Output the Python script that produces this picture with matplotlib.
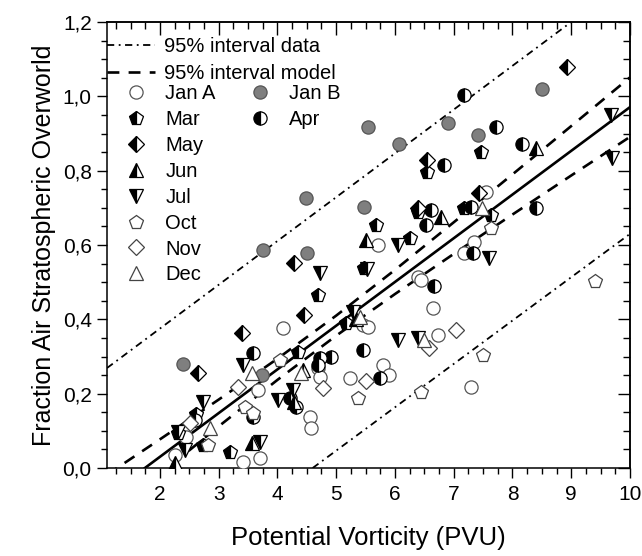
import matplotlib
matplotlib.use("Agg")
import matplotlib.pyplot as plt
from matplotlib.lines import Line2D
from matplotlib.ticker import MultipleLocator, FixedLocator, NullFormatter

plt.rcParams['font.family'] = ['Liberation Sans', 'DejaVu Sans']

# ---------------- data ----------------
jan_a_x = [2.25, 2.45, 3.41, 3.70, 3.67, 4.09, 4.69, 4.72, 4.55, 4.58, 5.23, 5.45, 5.54,
           5.79, 5.90, 6.39, 6.44, 6.64, 6.73, 7.29, 7.35, 7.18, 7.55, 5.71]
jan_a_y = [0.035, 0.084, 0.017, 0.026, 0.21, 0.376, 0.268, 0.246, 0.138, 0.107, 0.241, 0.385, 0.38,
           0.277, 0.25, 0.515, 0.506, 0.43, 0.358, 0.219, 0.609, 0.578, 0.743, 0.60]
jan_b_x = [2.40, 3.75, 3.74, 4.50, 4.49, 5.48, 5.54, 6.07, 6.91, 7.42, 8.50]
jan_b_y = [0.28, 0.587, 0.25, 0.578, 0.726, 0.703, 0.918, 0.872, 0.927, 0.896, 1.021]
mar_x = [2.31, 2.74, 3.19, 4.35, 4.69, 5.17, 5.48, 5.68, 6.25, 6.39, 6.55, 7.18, 7.46, 7.63, 2.62]
mar_y = [0.093, 0.062, 0.044, 0.313, 0.465, 0.389, 0.537, 0.654, 0.618, 0.69, 0.797, 0.699, 0.851, 0.681, 0.145]
apr_x = [2.60, 3.58, 3.58, 4.21, 4.32, 4.72, 4.69, 4.91, 5.45, 5.74, 6.53, 6.61, 6.84, 6.67,
         7.29, 7.32, 7.18, 7.72, 8.17, 8.40]
apr_y = [0.128, 0.309, 0.138, 0.188, 0.165, 0.295, 0.277, 0.30, 0.317, 0.241, 0.654, 0.694, 0.815, 0.49,
         0.703, 0.578, 1.003, 0.918, 0.872, 0.699]
may_x = [2.65, 3.39, 4.29, 4.46, 6.55, 7.43, 8.93, 6.39]
may_y = [0.255, 0.362, 0.551, 0.413, 0.829, 0.739, 1.08, 0.70]
jun_x = [2.25, 3.56, 4.29, 4.43, 5.51, 6.78, 8.40, 5.33]
jun_y = [0.014, 0.066, 0.178, 0.264, 0.613, 0.676, 0.86, 0.40]
jul_x = [2.31, 2.42, 2.74, 3.41, 3.70, 4.01, 4.26, 4.72, 5.28, 5.52, 6.05, 6.05, 6.39, 7.60, 9.67, 9.70]
jul_y = [0.098, 0.048, 0.178, 0.277, 0.07, 0.183, 0.21, 0.524, 0.42, 0.535, 0.60, 0.344, 0.349, 0.564, 0.95, 0.833]
oct_x = [2.82, 3.44, 3.58, 4.04, 5.37, 6.44, 7.49, 9.40, 7.64]
oct_y = [0.062, 0.165, 0.147, 0.29, 0.188, 0.205, 0.304, 0.504, 0.645]
nov_x = [2.51, 3.33, 4.77, 5.50, 6.58, 7.04]
nov_y = [0.12, 0.219, 0.214, 0.235, 0.322, 0.371]
dec_x = [2.85, 3.56, 4.40, 5.40, 6.50, 7.48]
dec_y = [0.107, 0.255, 0.255, 0.407, 0.345, 0.70]

# regression line and bands
fit_x = [1.745, 10.0]
fit_y = [0.0, 0.971]
band_x = [1.1, 2, 3, 4, 5, 6, 7, 8, 9, 10]
band_up = [-0.018, 0.077, 0.184, 0.294, 0.410, 0.533, 0.661, 0.790, 0.920, 1.051]
band_lo = [-0.134, -0.017, 0.112, 0.237, 0.356, 0.468, 0.576, 0.682, 0.787, 0.891]
pred_up_x = [1.1, 9.0]
pred_up_y = [0.269, 1.2]
pred_lo_x = [4.6, 10.0]
pred_lo_y = [0.0, 0.63]

x_ticks = [2, 3, 4, 5, 6, 7, 8, 9, 10]
y_ticks = [0.0, 0.2, 0.4, 0.6, 0.8, 1.0, 1.2]
y_tick_labels = ["0,0", "0,2", "0,4", "0,6", "0,8", "1,0", "1,2"]

# ---------------- figure ----------------
fig = plt.figure(figsize=(6.42, 5.56), dpi=100)
ax = fig.add_axes([107/642, 88/556, 523/642, 446/556])

DD = (0, (4, 2.5, 1, 2.5))
DASH = (0, (4.5, 3.5))
ax.plot(pred_up_x, pred_up_y, color='black', lw=1.3, linestyle=DD, zorder=1)
ax.plot(pred_lo_x, pred_lo_y, color='black', lw=1.3, linestyle=DD, zorder=1)
ax.plot(band_x, band_up, color='black', lw=1.9, linestyle=DASH, zorder=1)
ax.plot(band_x, band_lo, color='black', lw=1.9, linestyle=DASH, zorder=1)
ax.plot(fit_x, fit_y, color='black', lw=1.9, zorder=1)

ms = 9.5
mew = 0.9
half = dict(linestyle='none', fillstyle='left', markerfacecolor='black',
            markerfacecoloralt='white', markeredgecolor='black', markeredgewidth=mew)
openk = dict(linestyle='none', markerfacecolor='white', markeredgewidth=mew)

series = [
    ("Jan A", jan_a_x, jan_a_y, dict(marker='o', ms=ms, markeredgecolor='#555555', **openk)),
    ("Jan B", jan_b_x, jan_b_y, dict(marker='o', ms=ms, linestyle='none', markerfacecolor='#7f7f7f',
                                     markeredgecolor='#555555', markeredgewidth=mew)),
    ("Mar", mar_x, mar_y, dict(marker='p', ms=ms + 0.5, **half)),
    ("Apr", apr_x, apr_y, dict(marker='o', ms=ms, **half)),
    ("May", may_x, may_y, dict(marker='D', ms=ms - 1.5, **half)),
    ("Jun", jun_x, jun_y, dict(marker='^', ms=ms + 0.5, **half)),
    ("Jul", jul_x, jul_y, dict(marker='v', ms=ms + 0.5, **half)),
    ("Oct", oct_x, oct_y, dict(marker='p', ms=ms + 0.5, markeredgecolor='#444444', **openk)),
    ("Nov", nov_x, nov_y, dict(marker='D', ms=ms - 1.5, markeredgecolor='#444444', **openk)),
    ("Dec", dec_x, dec_y, dict(marker='^', ms=ms + 0.5, markeredgecolor='#444444', **openk)),
]
handles = {}
for name, xs, ys, st in series:
    h, = ax.plot(xs, ys, zorder=3, **st)
    handles[name] = h

ax.set_xlim(1.1, 10)
ax.set_ylim(0, 1.2)
ax.xaxis.set_major_locator(FixedLocator(x_ticks))
ax.xaxis.set_minor_locator(MultipleLocator(0.25))
ax.set_yticks(y_ticks)
ax.set_yticklabels(y_tick_labels)
ax.yaxis.set_minor_locator(MultipleLocator(0.05))
for s in ax.spines.values():
    s.set_linewidth(1.1)
ax.tick_params(which='both', direction='out', width=1, labelsize=15, colors='black')
ax.tick_params(which='major', length=7)
ax.tick_params(which='minor', length=4)
ax.tick_params(axis='x', pad=5)
ax.tick_params(axis='y', pad=4)

# top / right inward ticks
secx = ax.secondary_xaxis('top')
secx.xaxis.set_major_locator(FixedLocator(x_ticks))
secx.xaxis.set_minor_locator(MultipleLocator(0.25))
secx.xaxis.set_major_formatter(NullFormatter())
secx.tick_params(which='both', direction='in', width=1)
secx.tick_params(which='major', length=9)
secx.tick_params(which='minor', length=5)
secx.spines['top'].set_linewidth(1.1)
secy = ax.secondary_yaxis('right')
secy.yaxis.set_major_locator(FixedLocator(y_ticks))
secy.yaxis.set_minor_locator(MultipleLocator(0.05))
secy.yaxis.set_major_formatter(NullFormatter())
secy.tick_params(which='both', direction='in', width=1)
secy.tick_params(which='major', length=9)
secy.tick_params(which='minor', length=5)
secy.spines['right'].set_linewidth(1.1)

ax.set_xlabel("Potential Vorticity (PVU)", fontsize=18.5, labelpad=16)
ax.set_ylabel("Fraction Air Stratospheric Overworld", fontsize=18, labelpad=5)

# legends
lh1 = Line2D([], [], color='black', lw=1.3, linestyle=DD)
lh2 = Line2D([], [], color='black', lw=1.9, linestyle=DASH)
leg1 = ax.legend([lh1, lh2], ["95% interval data", "95% interval model"], loc='upper left',
                 bbox_to_anchor=(0.0, 0.967), frameon=False, fontsize=14.5, handlelength=2.4,
                 handletextpad=0.45, borderpad=0, borderaxespad=0, labelspacing=0.42)
ax.add_artist(leg1)
blank = Line2D([], [], linestyle='none', marker=None)
col1 = ["Jan A", "Mar", "May", "Jun", "Jul", "Oct", "Nov", "Dec"]
col2 = ["Jan B", "Apr"]
hs = [handles[n] for n in col1] + [handles[n] for n in col2] + [blank] * 6
ls = col1 + col2 + [""] * 6
leg2 = ax.legend(hs, ls, loc='upper left', bbox_to_anchor=(0.017, 0.86), ncol=2, frameon=False,
                 fontsize=14.5, handlelength=2.0, handletextpad=0.45, borderpad=0, borderaxespad=0,
                 labelspacing=0.34, columnspacing=1.2, numpoints=1)

fig.savefig("out.png", dpi=100)
